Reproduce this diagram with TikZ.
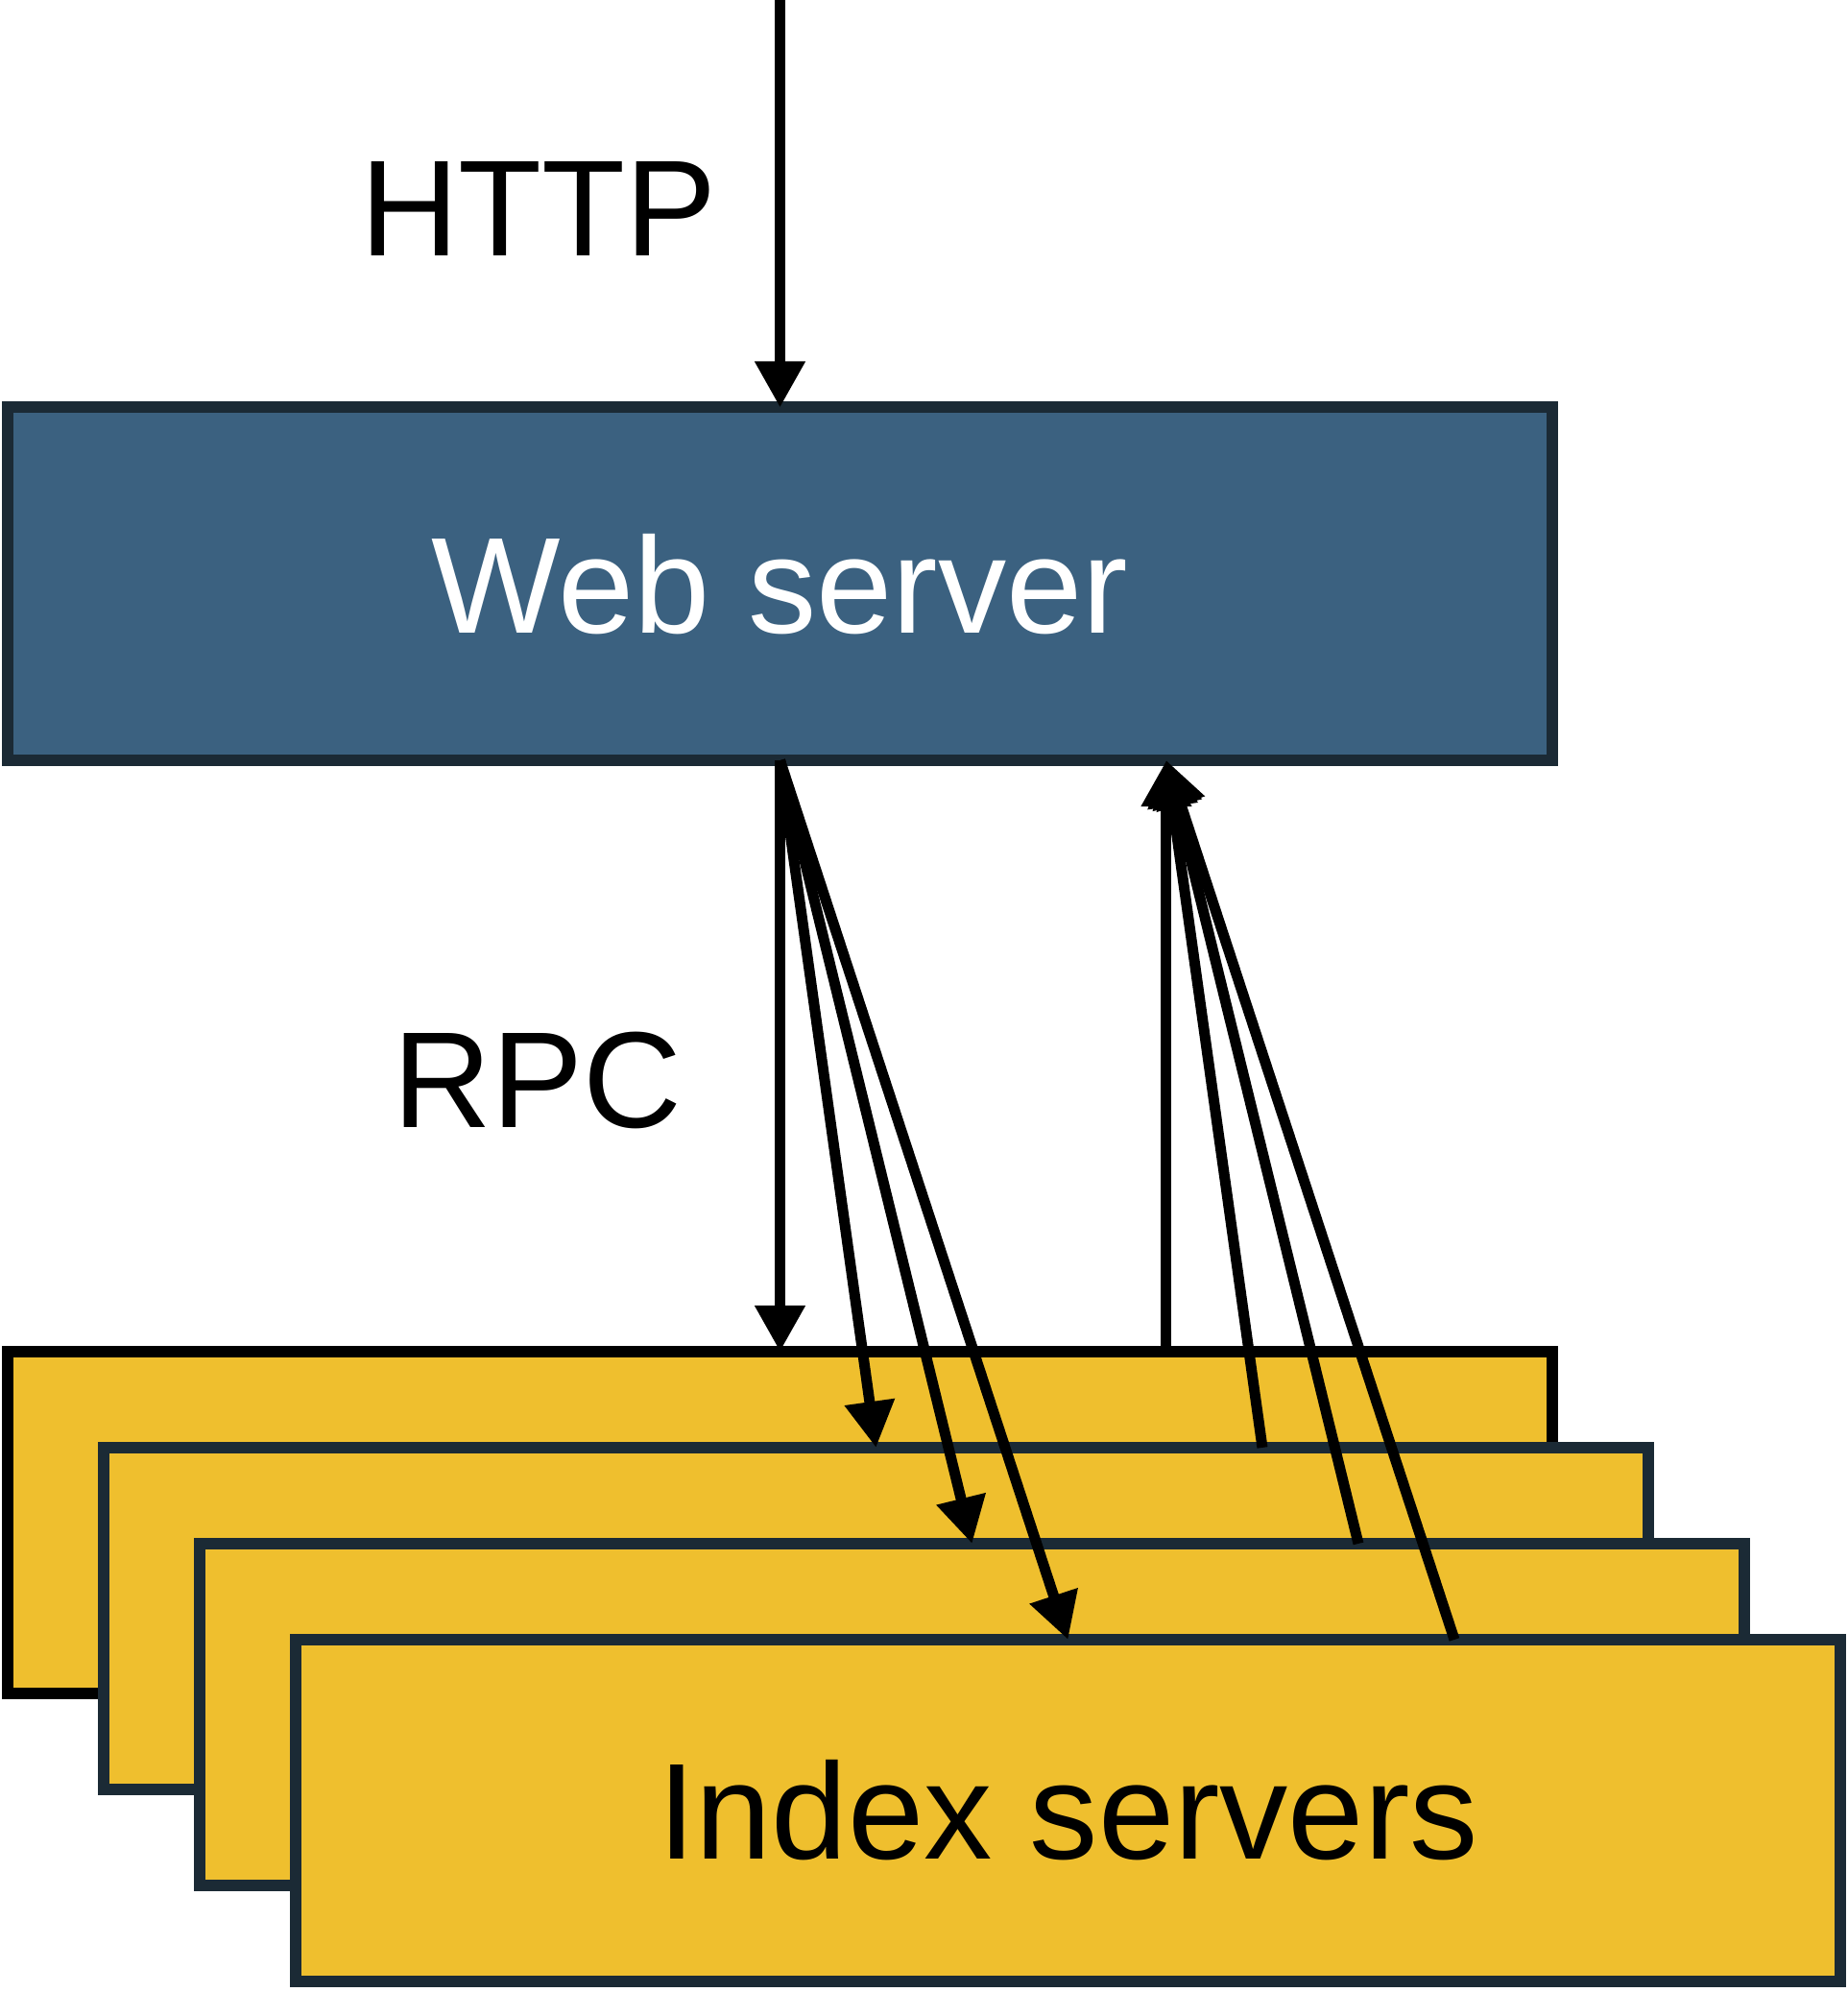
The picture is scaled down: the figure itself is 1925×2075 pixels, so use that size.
\documentclass[tikz,border=0pt]{standalone}
\usepackage{fontspec}
\setmainfont{Liberation Sans}
\usetikzlibrary{arrows.meta, calc}

\definecolor{webblue}{HTML}{3B6180}
\definecolor{idxyellow}{HTML}{EFBF2E}
\definecolor{edgenavy}{HTML}{1B2A35}

\begin{document}
\begin{tikzpicture}[
  x=0.01cm, y=-0.01cm,
  srv/.style={rectangle, draw=edgenavy, line width=0.12cm, outer sep=0pt, minimum width=16.09cm, align=center, font=\fontsize{40.5pt}{48pt}\selectfont},
  websrv/.style={srv, fill=webblue, text=white, minimum height=3.675cm},
  idxsrv/.style={srv, fill=idxyellow, minimum height=3.56cm},
  lbl/.style={font=\fontsize{40.5pt}{48pt}\selectfont},
  arr/.style={-{Triangle[length=0.48cm, width=0.5cm]}, line width=0.11cm}
]
\useasboundingbox (0,0) rectangle (1925,2075);
\node[websrv] (web) at (812.5,608.25) {Web server};
\node[idxsrv, draw=black] (idx1) at (812.5,1586) {};
\node[idxsrv] (idx2) at ([shift={(100,100)}]idx1.center) {};
\node[idxsrv] (idx3) at ([shift={(100,100)}]idx2.center) {};
\node[idxsrv] (idx4) at ([shift={(100,100)}]idx3.center) {Index servers};
\node[lbl] (http) at (561,217) {HTTP};
\node[lbl] (rpc) at (560,1125) {RPC};
\coordinate (client) at (812.5,0);
\coordinate (ret) at ($(web.south west)!0.75!(web.south east)$);
\draw[arr] (client) -- (web.north);
\foreach \i in {1,...,4}
  \draw[arr] (web.south) -- (idx\i.north);
\foreach \i in {1,...,4}
  \draw[arr] ($(idx\i.north west)!0.75!(idx\i.north east)$) -- (ret);
\end{tikzpicture}
\end{document}
